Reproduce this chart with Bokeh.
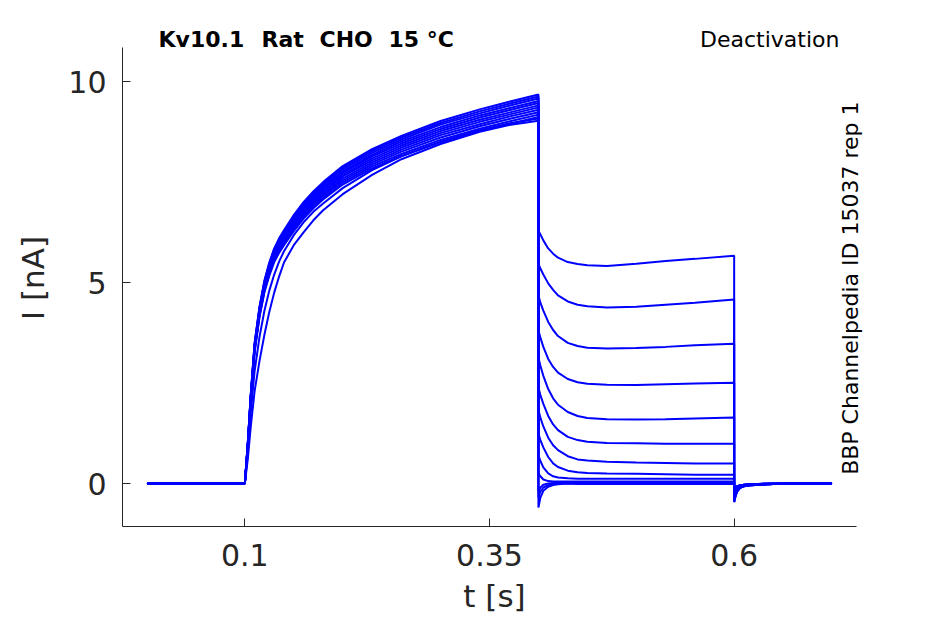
import math
from bokeh.plotting import figure
from bokeh.models import ColumnDataSource, Label, FixedTicker
from bokeh.embed import file_html
from bokeh.resources import INLINE

# ---- data ----
t_base = [0.0]
i_base = 0.0

t_act = [0.1, 0.103, 0.106, 0.11, 0.115, 0.12, 0.125, 0.13, 0.135, 0.14, 0.15,
         0.16, 0.17, 0.18, 0.2, 0.23, 0.26, 0.3, 0.34, 0.37, 0.4]
act = [
    [0, 1.0, 2.2, 3.5, 4.4, 5.05, 5.5, 5.85, 6.1, 6.3, 6.68, 7.0, 7.27, 7.5, 7.9, 8.32, 8.65, 9.02, 9.31, 9.5, 9.68],
    [0, 1.0, 2.19, 3.48, 4.38, 5.02, 5.47, 5.82, 6.07, 6.27, 6.64, 6.96, 7.23, 7.46, 7.86, 8.28, 8.61, 8.97, 9.26, 9.45, 9.63],
    [0, 0.98, 2.17, 3.46, 4.35, 5.0, 5.44, 5.79, 6.03, 6.23, 6.6, 6.93, 7.19, 7.42, 7.82, 8.23, 8.56, 8.93, 9.21, 9.40, 9.58],
    [0, 0.97, 2.15, 3.44, 4.33, 4.97, 5.4, 5.75, 5.99, 6.2, 6.56, 6.88, 7.15, 7.38, 7.77, 8.18, 8.51, 8.87, 9.16, 9.34, 9.52],
    [0, 0.97, 2.14, 3.42, 4.3, 4.94, 5.37, 5.72, 5.96, 6.16, 6.52, 6.85, 7.11, 7.34, 7.73, 8.14, 8.46, 8.82, 9.11, 9.29, 9.47],
    [0, 0.96, 2.12, 3.4, 4.28, 4.91, 5.34, 5.69, 5.92, 6.12, 6.48, 6.8, 7.06, 7.29, 7.68, 8.09, 8.41, 8.77, 9.05, 9.23, 9.41],
    [0, 0.95, 2.11, 3.38, 4.25, 4.88, 5.31, 5.66, 5.89, 6.09, 6.45, 6.77, 7.02, 7.25, 7.64, 8.04, 8.36, 8.72, 9.0, 9.18, 9.36],
    [0, 0.94, 2.09, 3.36, 4.23, 4.85, 5.28, 5.62, 5.85, 6.05, 6.41, 6.72, 6.98, 7.2, 7.59, 7.99, 8.31, 8.67, 8.94, 9.13, 9.30],
    [0, 0.93, 2.07, 3.33, 4.2, 4.82, 5.24, 5.58, 5.81, 6.01, 6.37, 6.68, 6.94, 7.16, 7.54, 7.94, 8.26, 8.61, 8.89, 9.07, 9.24],
    [0, 0.92, 2.05, 3.3, 4.17, 4.79, 5.21, 5.55, 5.78, 5.97, 6.33, 6.64, 6.89, 7.11, 7.49, 7.89, 8.2, 8.55, 8.83, 9.01, 9.18],
    [0, 0.9, 2.02, 3.27, 4.14, 4.76, 5.17, 5.51, 5.74, 5.93, 6.28, 6.59, 6.85, 7.07, 7.44, 7.84, 8.15, 8.5, 8.77, 8.95, 9.12],
    [0, 0.75, 1.75, 2.8, 3.65, 4.3, 4.8, 5.2, 5.52, 5.78, 6.18, 6.5, 6.76, 6.97, 7.35, 7.8, 8.14, 8.5, 8.79, 8.96, 9.08],
    [0, 0.6, 1.4, 2.3, 3.05, 3.7, 4.27, 4.75, 5.15, 5.5, 5.93, 6.25, 6.55, 6.8, 7.2, 7.68, 8.07, 8.45, 8.75, 8.92, 9.03],
]

t_deact = [0.4, 0.402, 0.405, 0.41, 0.415, 0.42, 0.43, 0.44, 0.45, 0.47, 0.5, 0.53, 0.56, 0.6]
deact = [
    [6.29, 6.2, 6.05, 5.85, 5.72, 5.62, 5.51, 5.46, 5.43, 5.41, 5.47, 5.54, 5.59, 5.67],
    [5.47, 5.35, 5.2, 4.98, 4.82, 4.68, 4.53, 4.45, 4.41, 4.38, 4.40, 4.45, 4.5, 4.58],
    [4.68, 4.5, 4.3, 4.02, 3.82, 3.67, 3.5, 3.42, 3.38, 3.36, 3.37, 3.4, 3.44, 3.48],
    [3.81, 3.63, 3.4, 3.1, 2.9, 2.76, 2.6, 2.52, 2.48, 2.46, 2.45, 2.47, 2.49, 2.51],
    [3.13, 2.93, 2.68, 2.35, 2.12, 1.96, 1.78, 1.68, 1.63, 1.6, 1.59, 1.6, 1.62, 1.64],
    [2.39, 2.2, 1.98, 1.68, 1.47, 1.33, 1.16, 1.08, 1.04, 1.01, 1.0, 0.99, 0.99, 0.99],
    [1.82, 1.64, 1.42, 1.14, 0.95, 0.83, 0.68, 0.6, 0.57, 0.54, 0.52, 0.51, 0.5, 0.5],
    [1.24, 1.08, 0.9, 0.66, 0.5, 0.41, 0.32, 0.28, 0.26, 0.25, 0.24, 0.23, 0.22, 0.22],
    [0.70, 0.56, 0.4, 0.25, 0.18, 0.15, 0.13, 0.12, 0.12, 0.12, 0.12, 0.12, 0.12, 0.12],
    [0.25, 0.18, 0.1, 0.06, 0.05, 0.05, 0.05, 0.05, 0.05, 0.05, 0.05, 0.05, 0.05, 0.05],
    [-0.2, -0.1, -0.03, 0.0, 0.01, 0.02, 0.02, 0.02, 0.02, 0.02, 0.02, 0.02, 0.02, 0.02],
    [-0.35, -0.2, -0.1, -0.04, -0.01, 0.0, 0.0, 0.0, 0.0, 0.0, 0.0, 0.0, 0.0, 0.0],
    [-0.6, -0.35, -0.18, -0.08, -0.04, -0.02, 0.0, -0.01, -0.01, -0.01, -0.01, -0.01, -0.01, -0.01],
]

t_tail = [0.6, 0.6015, 0.603, 0.606, 0.61, 0.615, 0.625, 0.64, 0.67, 0.7]
tail_a = [-0.46, -0.3, -0.2, -0.11, -0.07, -0.05, -0.03, -0.01, 0.0, 0.0]
tail_b = [-0.38, -0.25, -0.17, -0.1, -0.06, -0.04, -0.02, -0.01, 0.0, 0.0]
tail_c = [-0.28, -0.19, -0.13, -0.08, -0.05, -0.03, -0.02, -0.01, 0.0, 0.0]
tail_d = [-0.15, -0.1, -0.07, -0.05, -0.03, -0.02, -0.01, 0.0, 0.0, 0.0]
tails = [tail_a, tail_a, tail_a, tail_b, tail_b, tail_b, tail_c, tail_c, tail_c,
         tail_d, tail_d, tail_d, tail_d]

x_ticks = [0.1, 0.35, 0.6]
x_tick_labels = {0.1: "0.1", 0.35: "0.35", 0.6: "0.6"}
y_ticks = [0, 5, 10]

title_words = ["Kv10.1", "Rat", "CHO", "15 °C"]
protocol_text = "Deactivation"
side_text = "BBP Channelpedia ID 15037 rep 1"

# ---- build traces ----
xs, ys = [], []
for a, d, tl in zip(act, deact, tails):
    xs.append(t_base + t_act + t_deact + t_tail)
    ys.append([i_base] + a + d + tl)
src = ColumnDataSource(dict(xs=xs, ys=ys))

FONT = "DejaVu Sans"
AX = "#262626"

# extent of the drawn axis lines; the frame is a little larger to hold the texts
X_LO, X_HI = -0.025, 0.725
Y_LO, Y_HI = -1.07, 10.85

p = figure(output_backend="svg", toolbar_location=None,
           frame_width=744, frame_height=497,
           min_border_left=122, min_border_right=40,
           min_border_top=29, min_border_bottom=92,
           x_range=(X_LO, 0.73522), y_range=(Y_LO, 11.298),
           background_fill_color="white", border_fill_color="white")
p.outline_line_color = None
p.grid.visible = False

p.multi_line("xs", "ys", source=src, line_color="#0000ff", line_width=2)

for ax in (p.xaxis[0], p.yaxis[0]):
    ax.axis_line_color = AX
    ax.major_tick_line_color = AX
    ax.minor_tick_line_color = None
    ax.major_tick_in = 8
    ax.major_tick_out = 0
    ax.major_label_text_font = FONT
    ax.major_label_text_font_size = "30px"
    ax.major_label_text_color = AX
    ax.axis_label_text_font = FONT
    ax.axis_label_text_font_size = "31px"
    ax.axis_label_text_font_style = "normal"
    ax.axis_label_text_color = AX

p.xaxis.bounds = (X_LO, X_HI)
p.yaxis.bounds = (Y_LO, Y_HI)
p.xaxis.ticker = FixedTicker(ticks=x_ticks)
p.xaxis.major_label_overrides = x_tick_labels
p.yaxis.ticker = FixedTicker(ticks=y_ticks)
p.xaxis.axis_label = "t [s]"
p.yaxis.axis_label = "I [nA]"
p.xaxis.major_label_standoff = 17
p.yaxis.major_label_standoff = 16
p.xaxis.axis_label_standoff = 9
p.yaxis.axis_label_standoff = 14

TEXT_Y = 11.05
word_x = [0.0118, 0.117, 0.1763, 0.2468]
for w, wx in zip(title_words, word_x):
    p.add_layout(Label(x=wx, y=TEXT_Y, text=w, text_font=FONT,
                       text_font_size="22px", text_font_style="bold",
                       text_align="left", text_baseline="alphabetic",
                       text_color="black"))
p.add_layout(Label(x=0.7076, y=TEXT_Y, text=protocol_text, text_font=FONT,
                   text_font_size="22px", text_align="right",
                   text_baseline="alphabetic", text_color="black"))
p.add_layout(Label(x=0.7188, y=4.86, text=side_text, text_font=FONT,
                   text_font_size="22px", angle=math.pi / 2,
                   text_align="center", text_baseline="alphabetic",
                   text_color="black"))

open("out.html", "w").write(file_html(p, INLINE))
